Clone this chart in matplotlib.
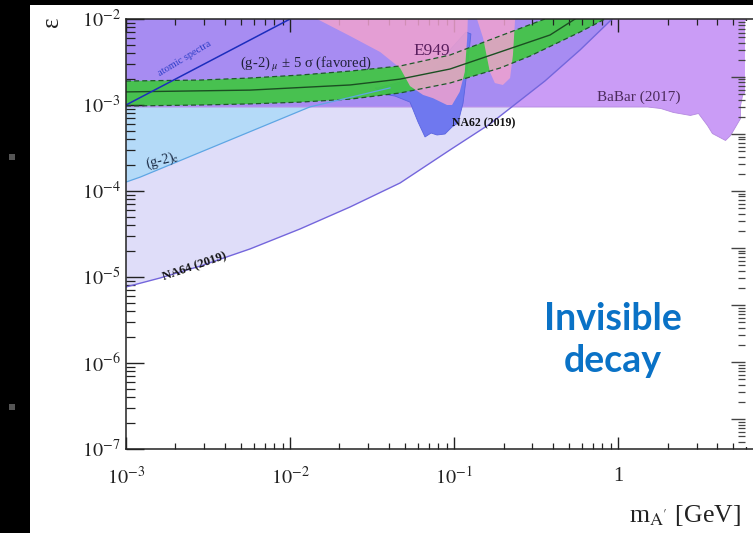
import numpy as np
import matplotlib
matplotlib.use('Agg')
import matplotlib.pyplot as plt
from matplotlib.patches import Rectangle
from matplotlib.ticker import LogLocator, NullFormatter, FixedLocator, FixedFormatter

plt.rcParams['font.family'] = ['Liberation Serif', 'DejaVu Serif']
plt.rcParams['mathtext.fontset'] = 'stix'

# ---------------- data ----------------
# NA64 (2019) upper edge of excluded region
na64_mass = [1e-3, 1.61e-3, 2.83e-3, 5.70e-3, 1.15e-2, 2.32e-2, 4.68e-2, 9.42e-2,
             0.165, 0.228, 0.357, 0.585, 0.917]
na64_eps = [7.66e-6, 9.73e-6, 1.34e-5, 2.12e-5, 3.62e-5, 6.52e-5, 1.24e-4, 3.0e-4,
            6.01e-4, 9.73e-4, 1.90e-3, 4.37e-3, 1.0e-2]

# (g-2)_e bound
g2e_mass = [1e-3, 1.22e-3, 1.32e-2, 4.06e-2]
g2e_eps = [1.27e-4, 1.45e-4, 9.5e-4, 1.58e-3]

# BaBar (2017) lower edge
babar_mass = [1e-3, 1.50, 1.80, 2.15, 2.73, 3.06, 3.47, 3.72, 4.47, 4.80, 5.52, 5.52, 5.68, 5.92]
babar_eps = [9.6e-4, 9.6e-4, 9.23e-4, 8.3e-4, 7.66e-4, 8.07e-4, 5.85e-4, 4.72e-4,
             3.92e-4, 4.48e-4, 7.06e-4, 1.0e-3, 1.31e-3, 1.45e-3]

# (g-2)_mu +-5 sigma favoured band
g2mu_up_mass = [1e-3, 2.83e-3, 5.70e-3, 1.15e-2, 2.32e-2, 4.68e-2, 9.42e-2, 0.190, 0.357]
g2mu_up_eps = [1.90e-3, 1.95e-3, 2.06e-3, 2.23e-3, 2.48e-3, 2.84e-3, 3.81e-3, 6.34e-3, 1.0e-2]
g2mu_lo_mass = [1e-3, 2.83e-3, 5.70e-3, 1.15e-2, 2.32e-2, 4.68e-2, 9.42e-2, 0.190, 0.290, 0.585, 0.83]
g2mu_lo_eps = [9.73e-4, 1.0e-3, 1.03e-3, 1.08e-3, 1.17e-3, 1.38e-3, 1.80e-3, 2.69e-3,
               3.71e-3, 7.06e-3, 1.0e-2]
g2mu_c_mass = [1e-3, 5.70e-3, 2.32e-2, 4.68e-2, 9.42e-2, 0.190, 0.384, 0.545]
g2mu_c_eps = [1.42e-3, 1.49e-3, 1.71e-3, 2.0e-3, 2.62e-3, 4.13e-3, 6.52e-3, 1.0e-2]

# E949 (two lobes)
e949a_mass = [1.46e-2, 2.32e-2, 3.54e-2, 4.68e-2, 5.38e-2, 6.46e-2, 7.43e-2, 9.04e-2,
              9.70e-2, 0.108, 0.116, 0.120, 0.121]
e949a_eps = [1.0e-2, 6.34e-3, 4.13e-3, 2.69e-3, 1.66e-3, 1.31e-3, 1.20e-3, 1.0e-3,
             1.0e-3, 1.42e-3, 2.42e-3, 6.01e-3, 1.0e-2]
e949b_mass = [0.1377, 0.150, 0.165, 0.177, 0.198, 0.219, 0.228, 0.235]
e949b_eps = [1.0e-2, 6.01e-3, 2.42e-3, 1.80e-3, 1.71e-3, 2.06e-3, 3.81e-3, 1.0e-2]

# NA62 (2019)
na62_mass = [3.29e-2, 3.68e-2, 4.36e-2, 5.38e-2, 6.02e-2, 6.64e-2, 7.23e-2, 7.86e-2,
             8.79e-2, 9.70e-2, 0.1054, 0.1132, 0.120, 0.1264, 0.118, 7.13e-2, 4.68e-2, 3.44e-2]
na62_eps = [1.58e-3, 1.34e-3, 1.27e-3, 1.08e-3, 6.34e-4, 4.25e-4, 4.72e-4, 4.48e-4,
            4.60e-4, 5.55e-4, 6.17e-4, 1.05e-3, 2.55e-3, 6.70e-3, 7.06e-3, 2.42e-3, 1.85e-3, 1.58e-3]

# atomic spectra line
atomic_mass = [1e-3, 1e-2]
atomic_eps = [1e-3, 1e-2]

x_ticks = [1e-3, 1e-2, 1e-1, 1, 10]
x_tick_labels = [r'$10^{-3}$', r'$10^{-2}$', r'$10^{-1}$', '1', '']
y_ticks = [1e-7, 1e-6, 1e-5, 1e-4, 1e-3, 1e-2]
y_tick_labels = [r'$10^{-7}$', r'$10^{-6}$', r'$10^{-5}$', r'$10^{-4}$', r'$10^{-3}$', r'$10^{-2}$']

# ---------------- figure ----------------
W, H = 753, 533
fig = plt.figure(figsize=(W / 100, H / 100), dpi=100)
fig.patch.set_facecolor('white')

# black slide frame
fig.patches.append(Rectangle((0, 0), 30 / W, 1, transform=fig.transFigure,
                             facecolor='black', edgecolor='none', zorder=0))
fig.patches.append(Rectangle((0, 1 - 5 / H), 1, 5 / H, transform=fig.transFigure,
                             facecolor='black', edgecolor='none', zorder=0))
for yy in (157, 407):
    fig.patches.append(Rectangle((9 / W, 1 - (yy + 3) / H), 6 / W, 6 / H,
                                 transform=fig.transFigure, facecolor='#555555',
                                 edgecolor='none', zorder=1))

ax_left = 126 / W
ax_bottom = (H - 449) / H
ax_width = (782.4 - 126) / W
ax_height = 430 / H
ax = fig.add_axes([ax_left, ax_bottom, ax_width, ax_height])
ax.set_xscale('log')
ax.set_yscale('log')
ax.set_xlim(1e-3, 10)
ax.set_ylim(1e-7, 1e-2)
ax.set_facecolor('white')

TOP = 1.0

# NA64 light lavender
na64_coll = ax.fill_between(na64_mass, na64_eps, TOP, facecolor='#dfddf9', edgecolor='none', zorder=1.0)
# (g-2)_e light blue
ax.fill_between(g2e_mass, g2e_eps, TOP, facecolor='#b4daf8', edgecolor='none', zorder=1.1)
ax.plot(g2e_mass, g2e_eps, color='#5ea6e4', lw=0.9, zorder=1.95)
# BaBar purple (pinkish) and bluish part overlapping NA64
ax.fill_between(babar_mass, babar_eps, TOP, facecolor='#ca9cf6', edgecolor='#b58ae0',
                lw=0.6, zorder=1.2)
bb2 = ax.fill_between(babar_mass, babar_eps, TOP, facecolor='#a78cf2', edgecolor='none', zorder=1.3)
bb2.set_clip_path(na64_coll.get_paths()[0], ax.transData)
ax.plot(na64_mass, na64_eps, color='#7466dc', lw=1.0, zorder=1.96)

# NA62 blue
ax.fill(na62_mass, na62_eps, facecolor='#6f78ef', edgecolor='#5a64e0', lw=0.6, zorder=1.4)

# (g-2)_mu band
band_x = g2mu_up_mass + g2mu_lo_mass[::-1]
band_y = g2mu_up_eps + g2mu_lo_eps[::-1]
ax.fill(band_x, band_y, facecolor='#3ec83e', edgecolor='none', alpha=0.9, zorder=1.5)
ax.plot(g2mu_up_mass, g2mu_up_eps, color='#1f5a2a', lw=0.9, ls=(0, (4, 2.5)), zorder=1.9)
ax.plot(g2mu_lo_mass, g2mu_lo_eps, color='#1f5a2a', lw=0.9, ls=(0, (4, 2.5)), zorder=1.9)
ax.plot(g2mu_c_mass, g2mu_c_eps, color='#1b4f22', lw=1.0, zorder=1.9)

# E949 pink
ax.fill(e949a_mass, e949a_eps, facecolor='#f0a2cf', edgecolor='none', alpha=0.85, zorder=1.6)
ax.fill(e949b_mass, e949b_eps, facecolor='#f0a2cf', edgecolor='none', alpha=0.85, zorder=1.6)

# atomic spectra line
ax.plot(atomic_mass, atomic_eps, color='#1c2dbd', lw=1.1, zorder=1.97)

# labels
ax.text(2.29e-3, 3.43e-3, 'atomic spectra', rotation=31, color='#3040c8', fontsize=7.5,
        ha='center', va='center', zorder=3)
ax.text(4.95e-3, 2.92e-3, r'(g-2)$_{\ \mu}$ ± 5 σ (favored)', color='#202038', fontsize=10.5,
        ha='left', va='center', zorder=3)
ax.text(5.61e-2, 4.24e-3, 'E949', color='#5a1f5e', fontsize=12.5, ha='left', va='center', zorder=3)
ax.text(0.741, 1.24e-3, 'BaBar (2017)', color='#4c2c5c', fontsize=11, ha='left', va='center', zorder=3)
ax.text(9.70e-2, 6.18e-4, 'NA62 (2019)', color='#111111', fontsize=8.5, fontweight='bold',
        ha='left', va='center', zorder=3)
ax.text(2.63e-3, 1.30e-5, 'NA64 (2019)', color='#111111', fontsize=9, fontweight='bold',
        rotation=19, ha='center', va='center', zorder=3)
ax.text(1.66e-3, 2.29e-4, r'(g-2)$_{\mathrm{e}}$', color='#1a2a44', fontsize=10,
        rotation=14, ha='center', va='center', zorder=3)

# axes styling
for s in ax.spines.values():
    s.set_linewidth(1.1)
    s.set_color('#222222')
ax.spines['right'].set_visible(False)
ax.xaxis.set_major_locator(FixedLocator(x_ticks))
ax.xaxis.set_major_formatter(FixedFormatter(x_tick_labels))
ax.xaxis.set_minor_locator(LogLocator(base=10, subs=np.arange(2, 10), numticks=20))
ax.xaxis.set_minor_formatter(NullFormatter())
ax.yaxis.set_major_locator(FixedLocator(y_ticks))
ax.yaxis.set_major_formatter(FixedFormatter(y_tick_labels))
ax.yaxis.set_minor_locator(LogLocator(base=10, subs=np.arange(2, 10), numticks=20))
ax.yaxis.set_minor_formatter(NullFormatter())
ax.tick_params(axis='x', which='major', direction='in', length=9, width=1.0, top=True,
               bottom=True, labelsize=14.5, pad=13, colors='#222222')
ax.tick_params(axis='x', which='minor', direction='in', length=4.5, width=0.9, top=True, bottom=True,
               colors='#222222')
ax.tick_params(axis='y', which='major', direction='in', length=13, width=1.0, left=True,
               right=False, labelsize=14.5, pad=4, colors='#222222')
ax.tick_params(axis='y', which='minor', direction='in', length=6.5, width=0.9, left=True,
               right=False, colors='#222222')

# neighbouring panel edge on the right
nb = fig.add_axes([745 / W, (H - 447) / H, 0.05, 426 / H])
nb.set_facecolor('white')
nb.set_yscale('log')
nb.set_ylim(10 ** -8.49, 10 ** -1.02)
nb.set_xticks([])
for s in nb.spines.values():
    s.set_visible(False)
nb.yaxis.set_major_locator(LogLocator(base=10, numticks=20))
nb.yaxis.set_minor_locator(LogLocator(base=10, subs=np.arange(2, 10), numticks=20))
nb.yaxis.set_major_formatter(NullFormatter())
nb.yaxis.set_minor_formatter(NullFormatter())
nb.tick_params(axis='y', which='major', direction='out', length=10, width=1.0, colors='#444444')
nb.tick_params(axis='y', which='minor', direction='out', length=5, width=0.9, colors='#444444')
nb.yaxis.set_ticks_position('left')

# axis titles
fig.text(52 / W, 1 - 22 / H, 'ε', rotation=90, fontsize=18, ha='center', va='center', color='#222222')
fig.text(629 / W, 1 - 515 / H, r"m$_{\mathrm{A'}}$ [GeV]", fontsize=18.5, ha='left', va='center',
         color='#222222')

fig.text(613 / W, 1 - 340 / H, 'Invisible\ndecay', fontsize=27, fontweight='bold',
         family=['Lato', 'DejaVu Sans'], color='#0a72c6', ha='center', va='center', linespacing=1.3)

fig.savefig('out.png', dpi=100)
